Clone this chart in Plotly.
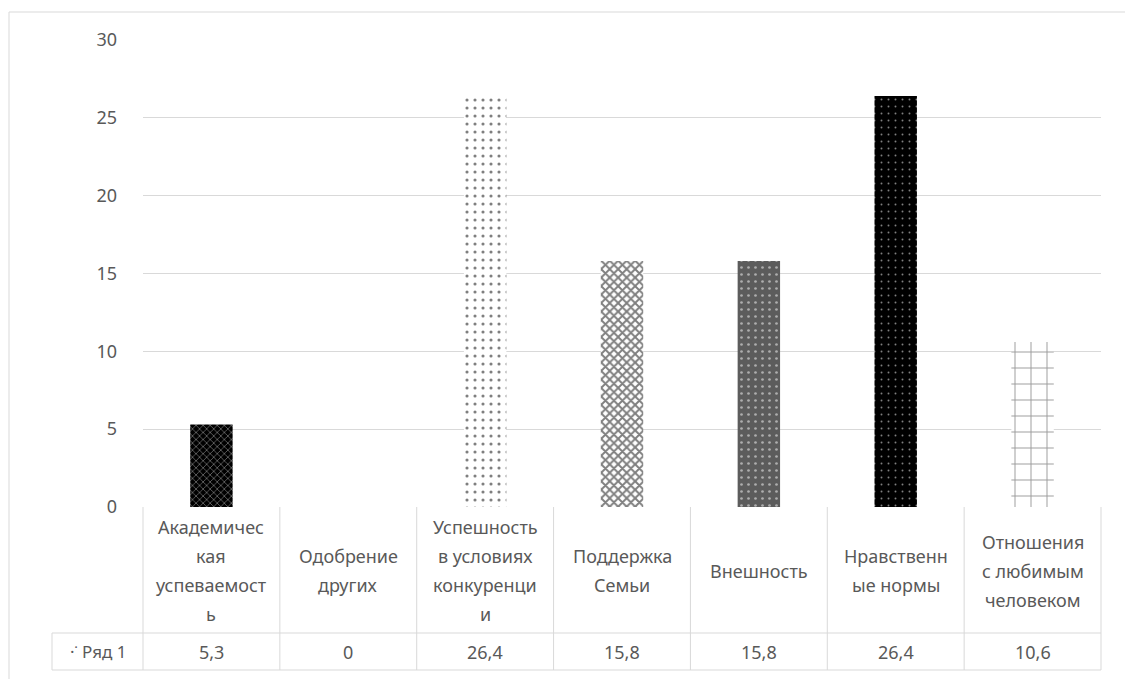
import plotly.graph_objects as go

# ---- data ----
categories = ["Академическая успеваемость", "Одобрение других", "Успешность в условиях конкуренции",
              "Поддержка Семьи", "Внешность", "Нравственные нормы", "Отношения с любимым человеком"]
category_label_lines = [["Академичес", "кая", "успеваемост", "ь"], ["Одобрение", "других"],
                        ["Успешность", "в условиях", "конкуренци", "и"], ["Поддержка", "Семьи"],
                        ["Внешность"], ["Нравственн", "ые нормы"], ["Отношения", "с любимым", "человеком"]]
values = [5.3, 0, 26.4, 15.8, 15.8, 26.4, 10.6]
value_labels = ["5,3", "0", "26,4", "15,8", "15,8", "26,4", "10,6"]
series_name = "Ряд 1"
y_ticks = [0, 5, 10, 15, 20, 25, 30]

# ---- styles ----
pat_shape = ["x", "", ".", "x", ".", ".", "+"]
pat_fg = ["#ffffff", "#000000", "#000000", "#000000", "#ffffff", "#ffffff", "#3a3a3a"]
pat_bg = ["#000000", "#ffffff", "#ffffff", "#ffffff", "#5c5c5c", "#000000", "#ffffff"]
pat_size = [5, 6, 8, 6, 7, 7, 16]
pat_sol = [0.25, 0.3, 0.12, 0.55, 0.12, 0.06, 0.12]

W, H = 1125, 679
L, R, T, B = 143, 24, 40, 172
PW, PH = W - L - R, H - T - B
GRID = "#d9d9d9"
TXT = "#595959"
FONT = "Noto Sans"
FS = 18
LINE_H = 29


def px(x):
    return (x - L) / PW


def py(y):
    return (H - B - y) / PH


fig = go.Figure()
fig.add_trace(go.Bar(
    x=categories, y=values, name=series_name,
    marker=dict(color="#ffffff", line=dict(width=0),
                pattern=dict(shape=pat_shape, fgcolor=pat_fg, bgcolor=pat_bg,
                             size=pat_size, solidity=pat_sol, fillmode="overlay")),
    showlegend=False,
))

n = len(categories)
shapes = []
line = dict(color=GRID, width=1)
y_top, y_mid, y_bot = 507, 633, 670
x_leg = 52
for yy in (y_mid, y_bot):
    shapes.append(dict(type="line", xref="paper", yref="paper", x0=px(x_leg), x1=1.0,
                       y0=py(yy), y1=py(yy), line=line))
for i in range(n + 1):
    shapes.append(dict(type="line", xref="paper", yref="paper", x0=i / n, x1=i / n,
                       y0=py(y_top), y1=py(y_bot), line=line))
shapes.append(dict(type="line", xref="paper", yref="paper", x0=px(x_leg), x1=px(x_leg),
                   y0=py(y_mid), y1=py(y_bot), line=line))
# chart border (top and left visible)
shapes.append(dict(type="line", xref="paper", yref="paper", x0=px(9), x1=px(W + 5),
                   y0=py(12), y1=py(12), line=line))
shapes.append(dict(type="line", xref="paper", yref="paper", x0=px(9), x1=px(9),
                   y0=py(12), y1=py(H + 5), line=line))

annotations = []
y_head_c = (y_top + y_mid) / 2 + 0.5
for i in range(n):
    lines = category_label_lines[i]
    k = len(lines)
    for j, t in enumerate(lines):
        yy = y_head_c + (j - (k - 1) / 2) * LINE_H
        annotations.append(dict(xref="paper", yref="paper", x=(i + 0.5) / n, y=py(yy),
                                text=t, showarrow=False, xanchor="center", yanchor="middle",
                                font=dict(family=FONT, size=FS, color=TXT)))
    annotations.append(dict(xref="paper", yref="paper", x=(i + 0.5) / n, y=py((y_mid + y_bot) / 2),
                            text=value_labels[i], showarrow=False, xanchor="center", yanchor="middle",
                            font=dict(family=FONT, size=FS, color=TXT)))
annotations.append(dict(xref="paper", yref="paper", x=px((x_leg + L) / 2), y=py((y_mid + y_bot) / 2),
                        text="·˙ " + series_name, showarrow=False, xanchor="center", yanchor="middle",
                        font=dict(family=FONT, size=17, color=TXT)))

fig.update_layout(
    width=W, height=H,
    margin=dict(l=L, r=R, t=T, b=B, pad=0),
    paper_bgcolor="#ffffff", plot_bgcolor="#ffffff",
    bargap=0.69,
    shapes=shapes, annotations=annotations,
    font=dict(family=FONT, color=TXT),
    xaxis=dict(range=[-0.5, n - 0.5], showticklabels=False, showgrid=False, zeroline=False,
               showline=False, ticks=""),
    yaxis=dict(range=[0, 30], tickvals=y_ticks, showgrid=True, gridcolor=GRID, gridwidth=1,
               zeroline=False, showline=False, ticks="", ticklabelstandoff=25,
               tickfont=dict(family=FONT, size=18, color=TXT)),
)

fig.write_html("out.html", config={"displayModeBar": False},
               post_script="document.body.style.margin='0';document.body.style.overflow='hidden';")
